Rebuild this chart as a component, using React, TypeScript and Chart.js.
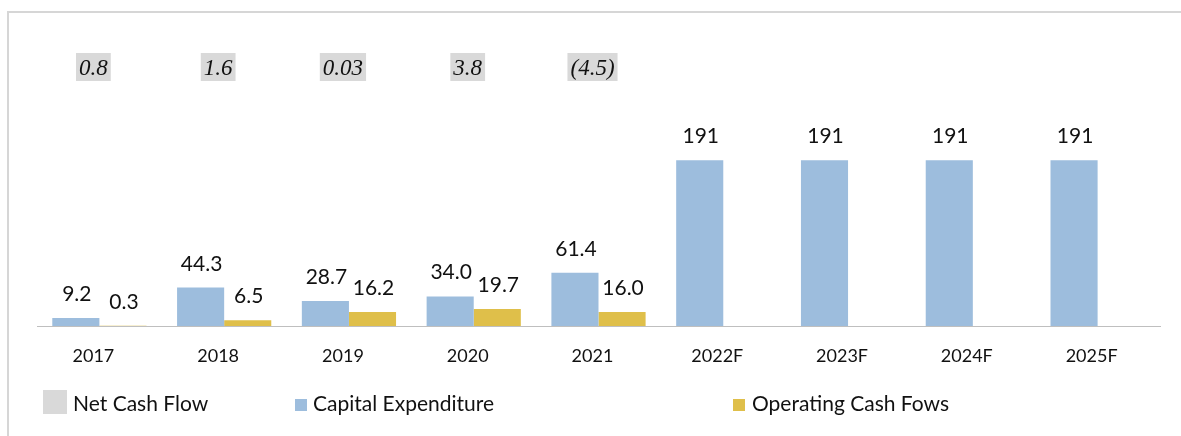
import React, { useEffect, useRef } from "react";
import { Chart, registerables } from "chart.js";

Chart.register(...registerables);

const categories = ["2017", "2018", "2019", "2020", "2021", "2022F", "2023F", "2024F", "2025F"];
const capitalExpenditure = [9.2, 44.3, 28.7, 34.0, 61.4, 191, 191, 191, 191];
const operatingCashFlows: (number | null)[] = [0.3, 6.5, 16.2, 19.7, 16.0, null, null, null, null];
const netCashFlow = [0.8, 1.6, 0.03, 3.8, -4.5];

const BLUE = "#9dbddd";
const GOLD = "#dfbf4a";
const GRAY = "#d9d9d9";
const TEXT = "#111111";

function fmtBar(v: number) {
  return v >= 100 ? v.toFixed(0) : v.toFixed(1);
}
function fmtNcf(v: number) {
  const s = String(Math.abs(v));
  const t = s.indexOf(".") < 0 ? Math.abs(v).toFixed(1) : s;
  return v < 0 ? "(" + t + ")" : t;
}

const labelsPlugin = {
  id: "customLabels",
  afterDatasetsDraw(chart: any) {
    const ctx = chart.ctx as CanvasRenderingContext2D;
    ctx.save();
    ctx.font = "21px Lato";
    ctx.fillStyle = TEXT;
    ctx.textAlign = "center";
    ctx.textBaseline = "alphabetic";
    chart.data.datasets.forEach((ds: any, di: number) => {
      const meta = chart.getDatasetMeta(di);
      meta.data.forEach((el: any, i: number) => {
        const v = ds.data[i];
        if (v == null) return;
        ctx.fillText(fmtBar(v), el.x + 1, el.y - 17);
      });
    });

    // Net cash flow labels (italic with gray highlight)
    const xs = chart.scales.x;
    ctx.font = "italic 23px 'Liberation Serif'";
    netCashFlow.forEach((v, i) => {
      const txt = fmtNcf(v);
      const cx = xs.getPixelForValue(i) - 6;
      const w = ctx.measureText(txt).width + 6;
      ctx.fillStyle = GRAY;
      ctx.fillRect(cx - w / 2, 53, w, 28);
      ctx.fillStyle = TEXT;
      ctx.fillText(txt, cx, 75);
    });

    // Legend
    ctx.textAlign = "left";
    ctx.font = "21px Lato";
    ctx.fillStyle = GRAY;
    ctx.fillRect(43, 390, 24, 24);
    ctx.fillStyle = TEXT;
    ctx.fillText("Net Cash Flow", 73, 411);
    ctx.fillStyle = BLUE;
    ctx.fillRect(295, 399, 12, 12);
    ctx.fillStyle = TEXT;
    ctx.fillText("Capital Expenditure", 313, 411);
    ctx.fillStyle = GOLD;
    ctx.fillRect(733, 399, 12, 12);
    ctx.fillStyle = TEXT;
    ctx.fillText("Operating Cash Fows", 752, 411);
    ctx.restore();
  },
};

export default function App() {
  const ref = useRef<HTMLCanvasElement | null>(null);
  useEffect(() => {
    if (!ref.current) return;
    const chart = new Chart(ref.current, {
      type: "bar",
      data: {
        labels: categories,
        datasets: [
          {
            label: "Capital Expenditure",
            data: capitalExpenditure,
            backgroundColor: BLUE,
            categoryPercentage: 0.755,
            barPercentage: 1,
          },
          {
            label: "Operating Cash Fows",
            data: operatingCashFlows,
            backgroundColor: GOLD,
            categoryPercentage: 0.755,
            barPercentage: 1,
          },
        ],
      },
      options: {
        responsive: false,
        animation: false,
        layout: { padding: { left: 37, right: 21, top: 135, bottom: 0 } },
        plugins: { legend: { display: false }, tooltip: { enabled: false } },
        scales: {
          x: {
            grid: { display: false, drawTicks: false },
            border: { display: true, color: "#bfbfbf", width: 1 },
            ticks: {
              font: { family: "Lato", size: 18 },
              color: TEXT,
              padding: 19,
              labelOffset: -6,
            },
            afterFit: (s: any) => {
              s.height = 110;
            },
          },
          y: { display: false, min: 0, max: 220 },
        },
      },
      plugins: [labelsPlugin],
    } as any);
    return () => chart.destroy();
  }, []);

  return (
    <div style={{ position: "absolute", left: 0, top: 0, width: 1181, height: 436, background: "#fff", overflow: "hidden" }}>
      <div
        style={{
          position: "absolute",
          left: 7,
          top: 11,
          width: 1200,
          height: 440,
          borderTop: "2px solid #d6d6d6",
          borderLeft: "2px solid #d6d6d6",
        }}
      />
      <canvas ref={ref} width={1181} height={436} style={{ position: "absolute", left: 0, top: 0 }} />
    </div>
  );
}
